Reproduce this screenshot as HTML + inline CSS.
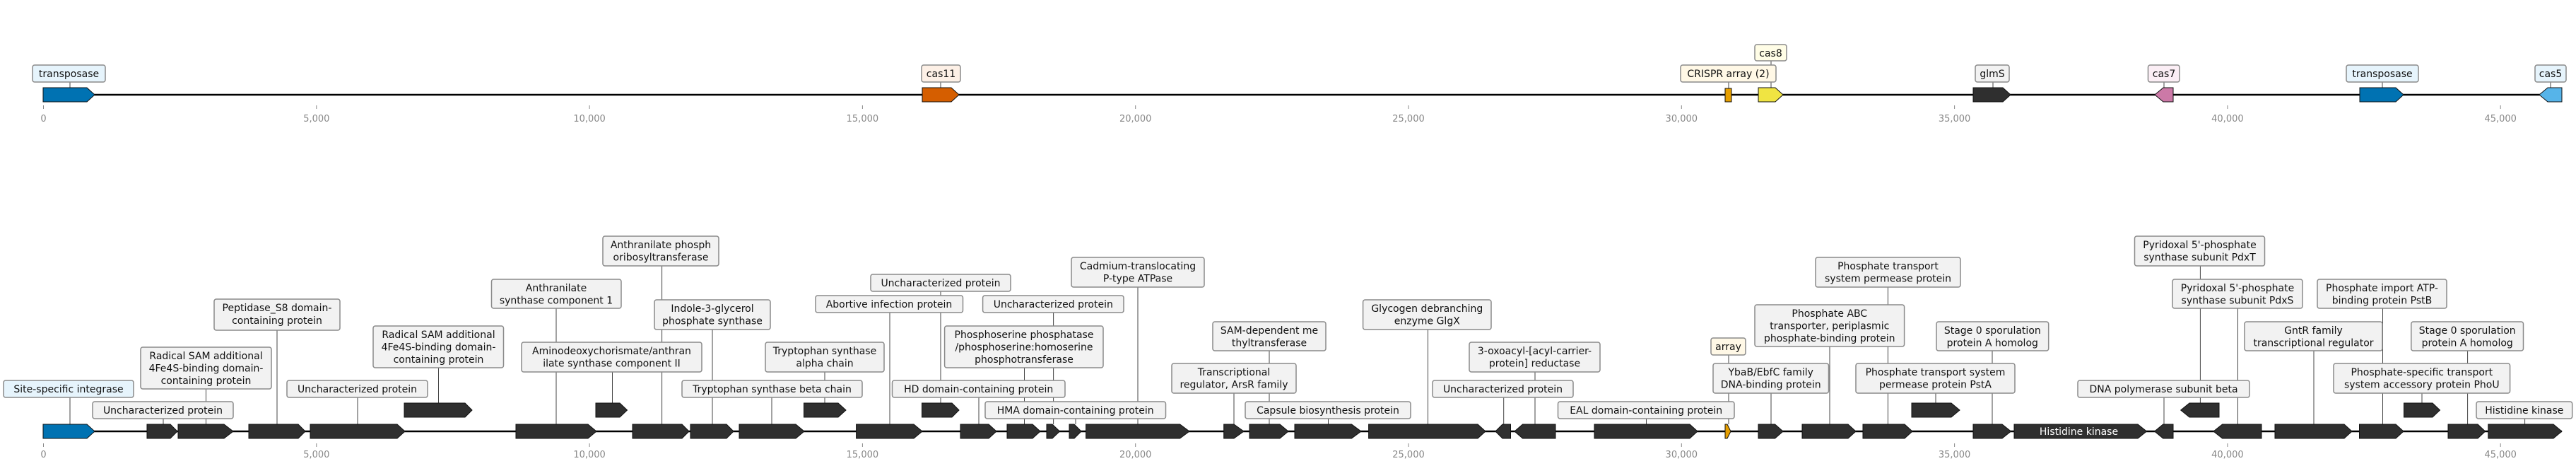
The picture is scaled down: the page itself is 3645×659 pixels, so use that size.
<!DOCTYPE html>
<html><head><meta charset="utf-8"><style>
html,body{margin:0;padding:0;background:#fff;}
svg{display:block;}
text{font-family:"DejaVu Sans","Liberation Sans",sans-serif;}
.l{font-size:14px;fill:#111;text-anchor:middle;}
.t{font-size:13px;fill:#888;text-anchor:middle;}
.b{stroke:#8a8a8a;stroke-width:1.5;}
.g{fill:#f2f2f2;}
.c{stroke:#444;stroke-width:1;}
.k{fill:#2f2f2f;stroke:#111;stroke-width:1;}
</style></head><body>
<svg width="3645" height="659" viewBox="0 0 3645 659" xmlns="http://www.w3.org/2000/svg">
<!-- TOP TRACK -->
<line x1="61" y1="134" x2="3625" y2="134" stroke="#000" stroke-width="2.5"/>
<g stroke="#888" stroke-width="1">
<line x1="61.5" y1="149" x2="61.5" y2="154"/><line x1="447.8" y1="149" x2="447.8" y2="154"/><line x1="834.1" y1="149" x2="834.1" y2="154"/><line x1="1220.4" y1="149" x2="1220.4" y2="154"/><line x1="1606.7" y1="149" x2="1606.7" y2="154"/><line x1="1993" y1="149" x2="1993" y2="154"/><line x1="2379.3" y1="149" x2="2379.3" y2="154"/><line x1="2765.6" y1="149" x2="2765.6" y2="154"/><line x1="3151.9" y1="149" x2="3151.9" y2="154"/><line x1="3538.2" y1="149" x2="3538.2" y2="154"/>
</g>
<g class="t">
<text x="61.5" y="172">0</text><text x="447.8" y="172">5,000</text><text x="834.1" y="172">10,000</text><text x="1220.4" y="172">15,000</text><text x="1606.7" y="172">20,000</text><text x="1993" y="172">25,000</text><text x="2379.3" y="172">30,000</text><text x="2765.6" y="172">35,000</text><text x="3151.9" y="172">40,000</text><text x="3538.2" y="172">45,000</text>
</g>
<g class="c">
<line x1="99" y1="116" x2="99" y2="124"/><line x1="1331" y1="116" x2="1331" y2="124"/><line x1="2446" y1="116" x2="2446" y2="125"/><line x1="2506" y1="86" x2="2506" y2="124"/><line x1="2820" y1="116" x2="2820" y2="124"/><line x1="3062" y1="116" x2="3062" y2="124"/><line x1="3371" y1="116" x2="3371" y2="124"/><line x1="3609" y1="116" x2="3609" y2="124"/>
</g>
<path d="M61,124 L123,124 L134,134 L123,144 L61,144 Z" fill="#0072b2" stroke="#111"/>
<path d="M1305,124 L1346,124 L1357,134 L1346,144 L1305,144 Z" fill="#d55e00" stroke="#111"/>
<rect x="2441" y="125" width="9" height="19" fill="#e69f00" stroke="#111"/>
<path d="M2488,124 L2512,124 L2523,134 L2512,144 L2488,144 Z" fill="#f0e442" stroke="#111"/>
<path d="M2792,124 L2834,124 L2845,134 L2834,144 L2792,144 Z" class="k"/>
<path d="M3075,124 L3061,124 L3049,134 L3061,144 L3075,144 Z" fill="#cc79a7" stroke="#111"/>
<path d="M3339,124 L3390,124 L3401,134 L3390,144 L3339,144 Z" fill="#0072b2" stroke="#111"/>
<path d="M3625,124 L3605,124 L3593,134 L3605,144 L3625,144 Z" fill="#56b4e9" stroke="#111"/>
<rect x="46" y="92" width="103" height="24" rx="3" class="b" fill="#e6f4fc"/><text class="l" x="97.5" y="109">transposase</text>
<rect x="1304" y="92" width="55" height="24" rx="3" class="b" fill="#fdf0e6"/><text class="l" x="1331.5" y="109">cas11</text>
<rect x="2378" y="92" width="135" height="24" rx="3" class="b" fill="#fff8e6"/><text class="l" x="2445.5" y="109">CRISPR array (2)</text>
<rect x="2483" y="63" width="45" height="23" rx="3" class="b" fill="#fffde6"/><text class="l" x="2505.5" y="80">cas8</text>
<rect x="2795" y="92" width="48" height="24" rx="3" class="b g"/><text class="l" x="2819" y="109">glmS</text>
<rect x="3039.5" y="92" width="44.5" height="24" rx="3" class="b" fill="#fbeef5"/><text class="l" x="3062" y="109">cas7</text>
<rect x="3320" y="92" width="102" height="24" rx="3" class="b" fill="#e6f4fc"/><text class="l" x="3371" y="109">transposase</text>
<rect x="3587" y="92" width="44" height="24" rx="3" class="b" fill="#e6f4fc"/><text class="l" x="3609" y="109">cas5</text>

<!-- BOTTOM TRACK -->
<line x1="61" y1="610" x2="3625" y2="610" stroke="#000" stroke-width="2.5"/>
<g stroke="#888" stroke-width="1">
<line x1="61.5" y1="627" x2="61.5" y2="632"/><line x1="447.8" y1="627" x2="447.8" y2="632"/><line x1="834.1" y1="627" x2="834.1" y2="632"/><line x1="1220.4" y1="627" x2="1220.4" y2="632"/><line x1="1606.7" y1="627" x2="1606.7" y2="632"/><line x1="1993" y1="627" x2="1993" y2="632"/><line x1="2379.3" y1="627" x2="2379.3" y2="632"/><line x1="2765.6" y1="627" x2="2765.6" y2="632"/><line x1="3151.9" y1="627" x2="3151.9" y2="632"/><line x1="3538.2" y1="627" x2="3538.2" y2="632"/>
</g>
<g class="t">
<text x="61.5" y="647">0</text><text x="447.8" y="647">5,000</text><text x="834.1" y="647">10,000</text><text x="1220.4" y="647">15,000</text><text x="1606.7" y="647">20,000</text><text x="1993" y="647">25,000</text><text x="2379.3" y="647">30,000</text><text x="2765.6" y="647">35,000</text><text x="3151.9" y="647">40,000</text><text x="3538.2" y="647">45,000</text>
</g>
<!-- connectors -->
<g class="c">
<line x1="99" y1="562" x2="99" y2="600"/>
<line x1="231" y1="592" x2="231" y2="600"/>
<line x1="291.5" y1="550" x2="291.5" y2="600"/>
<line x1="392" y1="467" x2="392" y2="600"/>
<line x1="506" y1="562" x2="506" y2="600"/>
<line x1="620.5" y1="520" x2="620.5" y2="570"/>
<line x1="787" y1="436" x2="787" y2="600"/>
<line x1="866.5" y1="526" x2="866.5" y2="570"/>
<line x1="936.6" y1="376" x2="936.6" y2="600"/>
<line x1="1008" y1="466" x2="1008" y2="600"/>
<line x1="1092" y1="562" x2="1092" y2="600"/>
<line x1="1167" y1="526" x2="1167" y2="570"/>
<line x1="1259" y1="442" x2="1259" y2="600"/>
<line x1="1331" y1="412" x2="1331" y2="570"/>
<line x1="1385" y1="562" x2="1385" y2="600"/>
<line x1="1449.5" y1="520" x2="1449.5" y2="600"/>
<line x1="1490.6" y1="442" x2="1490.6" y2="600"/>
<line x1="1522" y1="592" x2="1522" y2="600"/>
<line x1="1610" y1="406" x2="1610" y2="600"/>
<line x1="1746" y1="556" x2="1746" y2="600"/>
<line x1="1796" y1="496" x2="1796" y2="600"/>
<line x1="1879.5" y1="592" x2="1879.5" y2="600"/>
<line x1="2020.5" y1="466" x2="2020.5" y2="600"/>
<line x1="2127.7" y1="562" x2="2127.7" y2="600"/>
<line x1="2172" y1="526" x2="2172" y2="600"/>
<line x1="2329.5" y1="592" x2="2329.5" y2="600"/>
<line x1="2446" y1="502" x2="2446" y2="600"/>
<line x1="2506" y1="556" x2="2506" y2="600"/>
<line x1="2589" y1="490" x2="2589" y2="600"/>
<line x1="2671.4" y1="406" x2="2671.4" y2="600"/>
<line x1="2739" y1="556" x2="2739" y2="570"/>
<line x1="2819" y1="496" x2="2819" y2="600"/>
<line x1="3062" y1="562" x2="3062" y2="600"/>
<line x1="3113.4" y1="376" x2="3113.4" y2="570"/>
<line x1="3166.5" y1="436" x2="3166.5" y2="600"/>
<line x1="3274" y1="496" x2="3274" y2="600"/>
<line x1="3371.5" y1="436" x2="3371.5" y2="600"/>
<line x1="3427" y1="556" x2="3427" y2="570"/>
<line x1="3491.6" y1="496" x2="3491.6" y2="600"/>
<line x1="3572.6" y1="592" x2="3572.6" y2="600"/>
</g>
<!-- genes main row -->
<path d="M61,600 L123,600 L134,610 L123,620 L61,620 Z" fill="#0072b2" stroke="#111"/>
<g class="k">
<path d="M208,600 L241,600 L251,610 L241,620 L208,620 Z"/>
<path d="M252,600 L317,600 L330,610 L317,620 L252,620 Z"/>
<path d="M352,600 L422,600 L432,610 L422,620 L352,620 Z"/>
<path d="M439,600 L562,600 L573,610 L562,620 L439,620 Z"/>
<path d="M730,600 L832,600 L844,610 L832,620 L730,620 Z"/>
<path d="M895,600 L965,600 L975,610 L965,620 L895,620 Z"/>
<path d="M977,600 L1028,600 L1038,610 L1028,620 L977,620 Z"/>
<path d="M1046,600 L1126,600 L1138,610 L1126,620 L1046,620 Z"/>
<path d="M1211.6,600 L1293,600 L1305,610 L1293,620 L1211.6,620 Z"/>
<path d="M1359,600 L1399,600 L1410,610 L1399,620 L1359,620 Z"/>
<path d="M1425,600 L1461,600 L1472,610 L1461,620 L1425,620 Z"/>
<path d="M1481,600 L1489,600 L1499.5,610 L1489,620 L1481,620 Z"/>
<path d="M1513,600 L1520,600 L1530,610 L1520,620 L1513,620 Z"/>
<path d="M1536.6,600 L1669.6,600 L1683,610 L1669.6,620 L1536.6,620 Z"/>
<path d="M1731.7,600 L1746,600 L1760,610 L1746,620 L1731.7,620 Z"/>
<path d="M1768,600 L1811,600 L1823,610 L1811,620 L1768,620 Z"/>
<path d="M1832,600 L1912.5,600 L1926,610 L1912.5,620 L1832,620 Z"/>
<path d="M1936.6,600 L2091,600 L2102,610 L2091,620 L1936.6,620 Z"/>
<path d="M2137.5,600 L2126,600 L2116,610 L2126,620 L2137.5,620 Z"/>
<path d="M2201,600 L2154.5,600 L2143,610 L2154.5,620 L2201,620 Z"/>
<path d="M2256,600 L2391,600 L2402,610 L2391,620 L2256,620 Z"/>
<path d="M2488,600 L2511.6,600 L2523,610 L2511.6,620 L2488,620 Z"/>
<path d="M2550,600 L2615,600 L2626,610 L2615,620 L2550,620 Z"/>
<path d="M2636,600 L2695,600 L2706,610 L2695,620 L2636,620 Z"/>
<path d="M2792,600 L2833,600 L2845.5,610 L2833,620 L2792,620 Z"/>
<path d="M2850,600 L3025,600 L3037.5,610 L3025,620 L2850,620 Z"/>
<path d="M3075,600 L3060.7,600 L3048.7,610 L3060.7,620 L3075,620 Z"/>
<path d="M3200,600 L3144.6,600 L3132,610 L3144.6,620 L3200,620 Z"/>
<path d="M3219,600 L3317,600 L3328,610 L3317,620 L3219,620 Z"/>
<path d="M3338.5,600 L3390,600 L3401,610 L3390,620 L3338.5,620 Z"/>
<path d="M3464,600 L3506,600 L3516.6,610 L3506,620 L3464,620 Z"/>
<path d="M3520.8,600 L3613,600 L3625,610 L3613,620 L3520.8,620 Z"/>
<!-- upper row -->
<path d="M572,570 L658,570 L668,580 L658,590 L572,590 Z"/>
<path d="M843,570 L877,570 L887.5,580 L877,590 L843,590 Z"/>
<path d="M1137.5,570 L1186,570 L1197,580 L1186,590 L1137.5,590 Z"/>
<path d="M1304.5,570 L1347,570 L1357,580 L1347,590 L1304.5,590 Z"/>
<path d="M2705,570 L2761,570 L2773,580 L2761,590 L2705,590 Z"/>
<path d="M3140,570 L3098,570 L3085.7,580 L3098,590 L3140,590 Z"/>
<path d="M3401.5,570 L3442,570 L3452.5,580 L3442,590 L3401.5,590 Z"/>
</g>
<path d="M2441,600 L2444,600 L2449,610 L2444,620 L2441,620 Z" fill="#e69f00" stroke="#111"/>
<text x="2941.5" y="615" style="font-size:14px;fill:#fff;text-anchor:middle;">Histidine kinase</text>

<!-- label boxes -->
<rect x="5" y="538" width="184" height="24" rx="3" class="b" fill="#e6f4fc"/><text class="l" x="97" y="555">Site-specific integrase</text>
<rect x="131" y="568" width="199" height="24" rx="3" class="b g"/><text class="l" x="230.5" y="585">Uncharacterized protein</text>
<rect x="199" y="491" width="185" height="59" rx="3" class="b g"/><text class="l" x="291.5" y="508">Radical SAM additional</text><text class="l" x="291.5" y="525.5">4Fe4S-binding domain-</text><text class="l" x="291.5" y="543">containing protein</text>
<rect x="303" y="423" width="178" height="44" rx="3" class="b g"/><text class="l" x="392" y="440">Peptidase_S8 domain-</text><text class="l" x="392" y="458">containing protein</text>
<rect x="406" y="538" width="199" height="24" rx="3" class="b g"/><text class="l" x="505.5" y="555">Uncharacterized protein</text>
<rect x="528" y="461" width="184.5" height="59" rx="3" class="b g"/><text class="l" x="620.5" y="478">Radical SAM additional</text><text class="l" x="620.5" y="495.5">4Fe4S-binding domain-</text><text class="l" x="620.5" y="513">containing protein</text>
<rect x="695.5" y="395" width="183.5" height="41" rx="3" class="b g"/><text class="l" x="787" y="412">Anthranilate</text><text class="l" x="787" y="429.5">synthase component 1</text>
<rect x="738" y="484" width="255" height="42" rx="3" class="b g"/><text class="l" x="865.5" y="501">Aminodeoxychorismate/anthran</text><text class="l" x="865.5" y="518.5">ilate synthase component II</text>
<rect x="853" y="334" width="164" height="42" rx="3" class="b g"/><text class="l" x="935" y="351">Anthranilate phosph</text><text class="l" x="935" y="368.5">oribosyltransferase</text>
<rect x="926" y="424" width="164" height="42" rx="3" class="b g"/><text class="l" x="1008" y="441">Indole-3-glycerol</text><text class="l" x="1008" y="458.5">phosphate synthase</text>
<rect x="965" y="538" width="255" height="24" rx="3" class="b g"/><text class="l" x="1092.5" y="555">Tryptophan synthase beta chain</text>
<rect x="1083" y="484" width="168" height="42" rx="3" class="b g"/><text class="l" x="1167" y="501">Tryptophan synthase</text><text class="l" x="1167" y="518.5">alpha chain</text>
<rect x="1232" y="388" width="198" height="24" rx="3" class="b g"/><text class="l" x="1331" y="405">Uncharacterized protein</text>
<rect x="1154" y="418" width="208.5" height="24" rx="3" class="b g"/><text class="l" x="1258" y="435">Abortive infection protein</text>
<rect x="1336.6" y="461" width="224.4" height="59" rx="3" class="b g"/><text class="l" x="1449" y="478">Phosphoserine phosphatase</text><text class="l" x="1449" y="495.5">/phosphoserine:homoserine</text><text class="l" x="1449" y="513">phosphotransferase</text>
<rect x="1390.6" y="418" width="199.4" height="24" rx="3" class="b g"/><text class="l" x="1490.3" y="435">Uncharacterized protein</text>
<rect x="1262.5" y="538" width="244.5" height="24" rx="3" class="b g"/><text class="l" x="1384.7" y="555">HD domain-containing protein</text>
<rect x="1394" y="568" width="255.5" height="24" rx="3" class="b g"/><text class="l" x="1521.7" y="585">HMA domain-containing protein</text>
<rect x="1516" y="364" width="188" height="42" rx="3" class="b g"/><text class="l" x="1610" y="381">Cadmium-translocating</text><text class="l" x="1610" y="398.5">P-type ATPase</text>
<rect x="1658" y="514" width="176" height="42" rx="3" class="b g"/><text class="l" x="1746" y="531">Transcriptional</text><text class="l" x="1746" y="548.5">regulator, ArsR family</text>
<rect x="1716" y="455" width="160" height="41" rx="3" class="b g"/><text class="l" x="1796" y="472">SAM-dependent me</text><text class="l" x="1796" y="489.5">thyltransferase</text>
<rect x="1762" y="568" width="234" height="24" rx="3" class="b g"/><text class="l" x="1879" y="585">Capsule biosynthesis protein</text>
<rect x="1928.6" y="424" width="181.4" height="42" rx="3" class="b g"/><text class="l" x="2019.3" y="441">Glycogen debranching</text><text class="l" x="2019.3" y="458.5">enzyme GlgX</text>
<rect x="2027" y="538" width="199" height="24" rx="3" class="b g"/><text class="l" x="2126.5" y="555">Uncharacterized protein</text>
<rect x="2079" y="484" width="185" height="42" rx="3" class="b g"/><text class="l" x="2171.5" y="501">3-oxoacyl-[acyl-carrier-</text><text class="l" x="2171.5" y="518.5">protein] reductase</text>
<rect x="2204.5" y="568" width="249.5" height="24" rx="3" class="b g"/><text class="l" x="2329.2" y="585">EAL domain-containing protein</text>
<rect x="2421" y="478" width="49" height="24" rx="3" class="b" fill="#fff8e6"/><text class="l" x="2445.5" y="495">array</text>
<rect x="2424" y="514" width="163.5" height="42" rx="3" class="b g"/><text class="l" x="2505.7" y="531">YbaB/EbfC family</text><text class="l" x="2505.7" y="548.5">DNA-binding protein</text>
<rect x="2483" y="431" width="211.6" height="59" rx="3" class="b g"/><text class="l" x="2588.8" y="448">Phosphate ABC</text><text class="l" x="2588.8" y="465.5">transporter, periplasmic</text><text class="l" x="2588.8" y="483">phosphate-binding protein</text>
<rect x="2569" y="364" width="205" height="42" rx="3" class="b g"/><text class="l" x="2671.5" y="381">Phosphate transport</text><text class="l" x="2671.5" y="398.5">system permease protein</text>
<rect x="2626" y="514" width="225" height="42" rx="3" class="b g"/><text class="l" x="2738.5" y="531">Phosphate transport system</text><text class="l" x="2738.5" y="548.5">permease protein PstA</text>
<rect x="2740" y="455" width="158.7" height="41" rx="3" class="b g"/><text class="l" x="2819.3" y="472">Stage 0 sporulation</text><text class="l" x="2819.3" y="489.5">protein A homolog</text>
<rect x="2940" y="538" width="243" height="24" rx="3" class="b g"/><text class="l" x="3061.5" y="555">DNA polymerase subunit beta</text>
<rect x="3020.5" y="334" width="184" height="42" rx="3" class="b g"/><text class="l" x="3112.5" y="351">Pyridoxal 5'-phosphate</text><text class="l" x="3112.5" y="368.5">synthase subunit PdxT</text>
<rect x="3074" y="395" width="184" height="41" rx="3" class="b g"/><text class="l" x="3166" y="412">Pyridoxal 5'-phosphate</text><text class="l" x="3166" y="429.5">synthase subunit PdxS</text>
<rect x="3176" y="455" width="195" height="41" rx="3" class="b g"/><text class="l" x="3273.5" y="472">GntR family</text><text class="l" x="3273.5" y="489.5">transcriptional regulator</text>
<rect x="3279" y="395" width="183" height="41" rx="3" class="b g"/><text class="l" x="3370.5" y="412">Phosphate import ATP-</text><text class="l" x="3370.5" y="429.5">binding protein PstB</text>
<rect x="3302" y="514" width="249.6" height="42" rx="3" class="b g"/><text class="l" x="3426.8" y="531">Phosphate-specific transport</text><text class="l" x="3426.8" y="548.5">system accessory protein PhoU</text>
<rect x="3411.8" y="455" width="158.7" height="41" rx="3" class="b g"/><text class="l" x="3491.2" y="472">Stage 0 sporulation</text><text class="l" x="3491.2" y="489.5">protein A homolog</text>
<rect x="3504" y="568" width="135.7" height="24" rx="3" class="b g"/><text class="l" x="3571.8" y="585">Histidine kinase</text>
</svg>
</body></html>
